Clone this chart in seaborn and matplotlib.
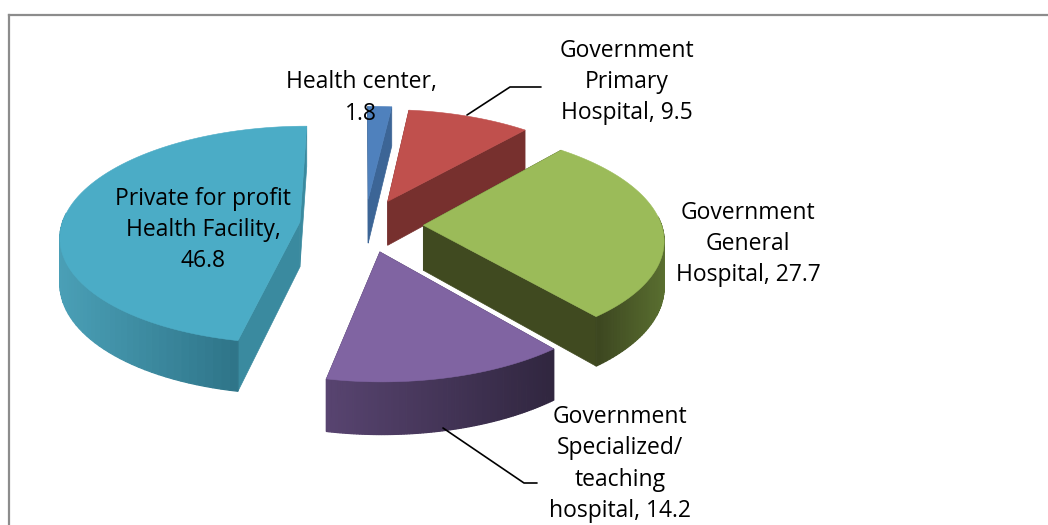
import numpy as np
import matplotlib
matplotlib.use("Agg")
import matplotlib.pyplot as plt
from matplotlib.colors import to_rgb
import seaborn as sns

categories = ["Health center", "Government\nPrimary\nHospital", "Government\nGeneral\nHospital",
              "Government\nSpecialized/\nteaching\nhospital", "Private for profit\nHealth Facility"]
values = [1.8, 9.5, 27.7, 14.2, 46.8]
value_separators = ["\n", " ", " ", " ", "\n"]
top_colors = ["#4f81bd", "#c0504d", "#9bbb59", "#8064a2", "#4bacc6"]
cut_colors = ["#3c6596", "#77302e", "#404a20", "#4a3a60", "#3a8a9f"]
rim_left = ["#3c6596", "#77302e", "#3c4620", "#584470", "#4a9fb6"]
rim_right = ["#3c6596", "#77302e", "#5a6f30", "#30263f", "#2e7488"]

CX, CY, RX, RY, K, DEPTH = 365, 225, 243, 110, 0.12, 45
explode = [0.24, 0.24, 0.24, 0.245, 0.27]
radius = [1.0, 0.98, 0.98, 0.98, 0.98]

sns.set_theme(style="white")
plt.rcParams["font.family"] = ["Open Sans", "DejaVu Sans"]
fig, ax = plt.subplots(figsize=(10.48, 5.25), dpi=100)
ax.set_position([0, 0, 1, 1])
ax.set_xlim(0, 1048)
ax.set_ylim(525, 0)
ax.axis("off")


def project(u, v, low=False):
    s = 1 / (1 + K * np.asarray(v))
    return CX + RX * s * np.asarray(u), CY - RY * s * np.asarray(v) + (DEPTH * s if low else 0)


def mix(a, b, t):
    a, b = np.array(to_rgb(a)), np.array(to_rgb(b))
    return tuple(a + (b - a) * t)


edges = np.concatenate([[0], np.cumsum(values)]) / np.sum(values) * 2 * np.pi
order = [0, 1, 2, 4, 3]
layer = 2.0
for i in order:
    a0, a1 = edges[i], edges[i + 1]
    mid = (a0 + a1) / 2
    ou, ov = explode[i] * np.sin(mid), explode[i] * np.cos(mid)
    arc = np.linspace(a0, a1, 90)
    us, vs = ou + radius[i] * np.sin(arc), ov + radius[i] * np.cos(arc)

    # radial cut faces, back one first
    faces = sorted([(us[0], vs[0]), (us[-1], vs[-1])], key=lambda p: -p[1])
    for fu, fv in faces:
        pu, pv = np.array([ou, fu]), np.array([ov, fv])
        x1, y1 = project(pu, pv)
        x2, y2 = project(pu, pv, low=True)
        ax.fill(np.r_[x1, x2[::-1]], np.r_[y1, y2[::-1]], color=cut_colors[i], lw=0.5, zorder=layer)

    # outer rim with a shading gradient
    visible = (arc > np.radians(85)) & (arc < np.radians(275))
    if visible.any():
        xt, _ = project(us[visible], vs[visible])
        lo, hi = xt.min(), xt.max()
        for j in range(len(arc) - 1):
            if not (visible[j] and visible[j + 1]):
                continue
            pu, pv = us[j:j + 2], vs[j:j + 2]
            x1, y1 = project(pu, pv)
            x2, y2 = project(pu, pv, low=True)
            t = (x1.mean() - lo) / max(hi - lo, 1)
            c = mix(rim_left[i], rim_right[i], t)
            ax.fill(np.r_[x1, x2[::-1]], np.r_[y1, y2[::-1]], color=c, lw=0.9, zorder=layer)

    # top surface
    x, y = project(np.r_[ou, us], np.r_[ov, vs])
    ax.fill(x, y, color=top_colors[i], lw=0.4, zorder=layer + 0.1)
    layer += 0.2

# labels
label_pos = [(361, 98), (627, 82), (748, 244), (620, 464), (203, 230)]
for cat, val, sep, (lx, ly) in zip(categories, values, value_separators, label_pos):
    ax.text(lx, ly, f"{cat},{sep}{val}", ha="center", va="center", fontsize=16.5,
            color="black", linespacing=1.4, zorder=6)

# leader lines
ax.plot([467, 510, 541], [115, 87, 87], color="black", lw=1.2, zorder=5)
ax.plot([443, 524, 537], [428, 483, 483], color="black", lw=1.2, zorder=5)

# chart frame, cut by the image edge
ax.plot([9, 9], [525, 15], color="#8c8c8c", lw=1.6, zorder=1, solid_capstyle="projecting")
ax.plot([9, 1048], [15, 15], color="#8c8c8c", lw=1.6, zorder=1, solid_capstyle="projecting")

fig.savefig("out.png", dpi=100, facecolor="white")
